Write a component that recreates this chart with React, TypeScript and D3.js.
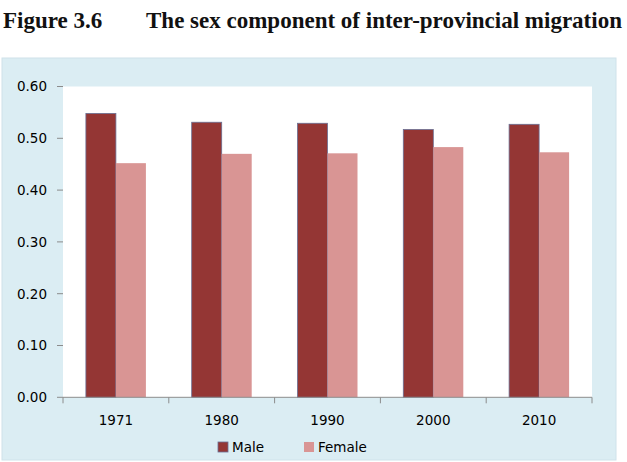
import { useEffect, useRef } from "react";
import * as d3 from "d3";

const YEARS = ["1971", "1980", "1990", "2000", "2010"];
const MALE = [0.548, 0.531, 0.529, 0.517, 0.527];
const FEMALE = [0.452, 0.47, 0.471, 0.483, 0.473];
const Y_TICKS = [0, 0.1, 0.2, 0.3, 0.4, 0.5, 0.6];
const SERIES = ["Male", "Female"];

const WIDTH = 627;
const HEIGHT = 462;
const PANEL_BG = "#dbedf3";
const MALE_COLOR = "#943634";
const FEMALE_COLOR = "#d99594";
const AXIS_COLOR = "#8c8c8c";
const TEXT_COLOR = "#000";
const FONT = "'DejaVu Sans', Verdana, sans-serif";

const plot = { left: 63, right: 592, top: 86.5, bottom: 397.3 };

function drawChart(el: SVGSVGElement) {
  const svg = d3.select(el);
  svg.selectAll("*").remove();

  // caption above the chart panel
  const caption = svg
    .append("text")
    .attr("x", 3)
    .attr("y", 28)
    .attr("font-family", "'Liberation Serif', serif")
    .attr("font-weight", "bold")
    .attr("font-size", 23)
    .attr("fill", "#111");
  caption.append("tspan").text("Figure 3.6");
  caption
    .append("tspan")
    .attr("x", 146)
    .text("The sex component of inter-provincial migration");

  // chart panel
  svg
    .append("rect")
    .attr("x", 2)
    .attr("y", 58)
    .attr("width", 614)
    .attr("height", 402)
    .attr("fill", PANEL_BG)
    .attr("stroke", "#cfe2ea")
    .attr("stroke-width", 1);

  svg
    .append("rect")
    .attr("x", plot.left)
    .attr("y", plot.top)
    .attr("width", plot.right - plot.left)
    .attr("height", plot.bottom - plot.top)
    .attr("fill", "#fff");

  const x0 = d3.scaleBand<string>().domain(YEARS).range([plot.left, plot.right]).paddingInner(0).paddingOuter(0);
  const groupWidth = 60;
  const x1 = d3
    .scaleBand<string>()
    .domain(SERIES)
    .range([(x0.bandwidth() - groupWidth) / 2, (x0.bandwidth() + groupWidth) / 2]);
  const y = d3.scaleLinear().domain([0, 0.6]).range([plot.bottom, plot.top]);

  // y ticks and labels
  const yAxis = svg.append("g");
  Y_TICKS.forEach((t) => {
    yAxis
      .append("line")
      .attr("x1", plot.left - 6)
      .attr("x2", plot.left)
      .attr("y1", y(t))
      .attr("y2", y(t))
      .attr("stroke", AXIS_COLOR);
    yAxis
      .append("text")
      .attr("x", 47)
      .attr("y", y(t))
      .attr("dy", "0.36em")
      .attr("text-anchor", "end")
      .attr("font-family", FONT)
      .attr("font-size", 13.5)
      .attr("fill", TEXT_COLOR)
      .text(t.toFixed(2));
  });

  // bars
  const groups = svg
    .append("g")
    .selectAll("g")
    .data(YEARS)
    .join("g")
    .attr("transform", (d) => `translate(${x0(d)},0)`);

  groups
    .append("rect")
    .attr("x", x1("Male")!)
    .attr("width", x1.bandwidth())
    .attr("y", (_, i) => y(MALE[i]))
    .attr("height", (_, i) => plot.bottom - y(MALE[i]))
    .attr("fill", MALE_COLOR)
    .attr("stroke", "#6a6f93")
    .attr("stroke-width", 0.8);

  groups
    .append("rect")
    .attr("x", x1("Female")!)
    .attr("width", x1.bandwidth())
    .attr("y", (_, i) => y(FEMALE[i]))
    .attr("height", (_, i) => plot.bottom - y(FEMALE[i]))
    .attr("fill", FEMALE_COLOR);

  // x axis
  const xAxis = svg.append("g");
  xAxis
    .append("line")
    .attr("x1", plot.left)
    .attr("x2", plot.right)
    .attr("y1", plot.bottom)
    .attr("y2", plot.bottom)
    .attr("stroke", AXIS_COLOR);
  [...YEARS.map((d) => x0(d)!), plot.right].forEach((xv) => {
    xAxis
      .append("line")
      .attr("x1", xv)
      .attr("x2", xv)
      .attr("y1", plot.bottom)
      .attr("y2", plot.bottom + 6)
      .attr("stroke", AXIS_COLOR);
  });
  YEARS.forEach((d) => {
    xAxis
      .append("text")
      .attr("x", x0(d)! + x0.bandwidth() / 2)
      .attr("y", 425)
      .attr("text-anchor", "middle")
      .attr("font-family", FONT)
      .attr("font-size", 13.5)
      .attr("fill", TEXT_COLOR)
      .text(d);
  });

  // legend
  const legend = svg.append("g");
  const legendX = [218, 304];
  SERIES.forEach((s, i) => {
    legend
      .append("rect")
      .attr("x", legendX[i])
      .attr("y", 442)
      .attr("width", 10)
      .attr("height", 10)
      .attr("fill", i === 0 ? MALE_COLOR : FEMALE_COLOR)
      .attr("stroke", i === 0 ? "#6a6f93" : "none")
      .attr("stroke-width", 0.8);
    legend
      .append("text")
      .attr("x", legendX[i] + 14)
      .attr("y", 451.5)
      .attr("font-family", FONT)
      .attr("font-size", 13.5)
      .attr("fill", TEXT_COLOR)
      .text(s);
  });
}

export default function App() {
  const ref = useRef<SVGSVGElement>(null);
  useEffect(() => {
    if (ref.current) drawChart(ref.current);
  }, []);
  return (
    <div style={{ position: "fixed", left: 0, top: 0, width: WIDTH, height: HEIGHT, overflow: "hidden", background: "#fff" }}>
      <svg ref={ref} width={WIDTH} height={HEIGHT} style={{ display: "block" }} />
    </div>
  );
}
